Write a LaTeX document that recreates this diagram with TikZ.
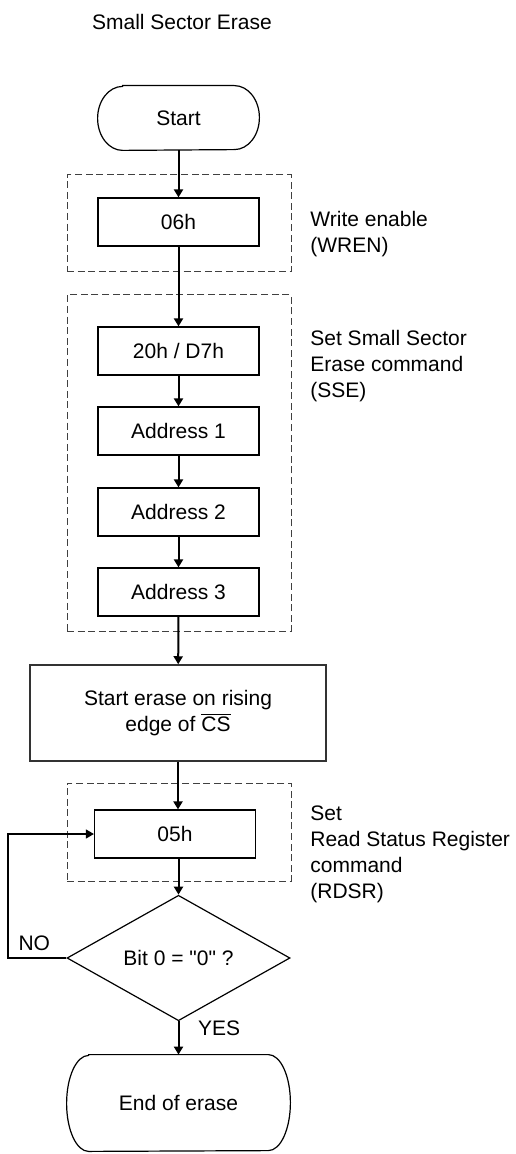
\documentclass[tikz,border=0pt]{standalone}
\usepackage{fontspec}
\setmainfont{Liberation Sans}[Ligatures=TeXOff]
\usepackage{tikz}
\usetikzlibrary{shapes.geometric, arrows.meta, positioning}

\newcommand{\chartfont}{\fontsize{10.5}{13}\selectfont}

\begin{document}
\begin{tikzpicture}[x=0.5pt, y=-0.5pt,
  % Node styles
  box/.style={draw, line width=0.6pt, minimum width=80.5pt, minimum height=24pt,
              align=center, font=\chartfont},
  term/.style={inner sep=0pt, align=center, font=\chartfont},
  termline/.style={line width=0.6pt},
  decision/.style={draw, diamond, inner sep=0pt, line width=0.6pt,
                   minimum width=111.5pt, minimum height=47.5pt, font=\chartfont},
  group/.style={draw=black!75, dash pattern=on 3.5pt off 1.8pt, line width=0.5pt,
                inner sep=0pt, minimum width=112pt},
  note/.style={anchor=west, align=left, inner sep=0pt, font=\chartfont},
  % Arrow styles
  arr/.style={-{Triangle[length=4pt, width=4.5pt]}, line width=1pt},
  thinarr/.style={-{Triangle[length=4pt, width=4.5pt]}, line width=0.6pt},
]
  \useasboundingbox (0,0) rectangle (515,1154);

  % ── Title ──
  \node[font=\chartfont] (title) at (182,22) {Small Sector Erase};

  % ── Dashed command groups ──
  \node[group, minimum height=48.5pt] (grp1) at (179,223.5) {};
  \node[group, minimum height=168pt] (grp2) at (179,463) {};
  \node[group, minimum height=49pt] (grp3) at (179,832) {};

  % ── Start + WREN ──
  \node[term, minimum width=80.5pt, minimum height=32pt] (start) at (178.5,118) {Start};
  \draw[termline] ([xshift=12.5pt]start.north west) -- ([xshift=-12.5pt]start.north east)
    arc[start angle=90, end angle=-90, x radius=12.5pt, y radius=16pt]
    -- ([xshift=12.5pt]start.south west)
    arc[start angle=270, end angle=90, x radius=12.5pt, y radius=16pt] -- cycle;
  \node[box] (wren) at (178.5,222) {06h};
  \node[note] at (310,234) {Write enable\\(WREN)};

  % ── SSE command + address bytes ──
  \node[box] (sse) at (178.5,351) {20h / D7h};
  \node[box] (addr1) at (178.5,431) {Address 1};
  \node[box] (addr2) at (178.5,512) {Address 2};
  \node[box] (addr3) at (178.5,592) {Address 3};
  \node[note] at (310,366.5) {Set Small Sector\\Erase command\\(SSE)};

  % ── Erase start ──
  \node[box, draw=black!80, line width=0.75pt, minimum width=148pt, minimum height=48pt]
        (erase) at (178,713) {Start erase on rising\\edge of $\overline{\mbox{CS}}$};

  % ── RDSR polling ──
  \node[box] (rdsr) at (175,834) {05h};
  \node[note] at (310,854.5) {Set\\Read Status Register\\command\\(RDSR)};
  \node[decision] (check) at (178.5,958) {Bit 0 = "0" ?};
  \coordinate (loopL) at (8,958);

  % ── End ──
  \node[term, minimum width=111.5pt, minimum height=48pt] (done) at (178.5,1103) {End of erase};
  \draw[termline] ([xshift=11pt]done.north west) -- ([xshift=-11pt]done.north east)
    arc[start angle=90, end angle=-90, x radius=11pt, y radius=24pt]
    -- ([xshift=11pt]done.south west)
    arc[start angle=270, end angle=90, x radius=11pt, y radius=24pt] -- cycle;

  % ── Arrows: main flow ──
  \draw[arr] (start) -- (wren);
  \draw[arr] (wren) -- (sse);
  \draw[arr] (sse) -- (addr1);
  \draw[arr] (addr1) -- (addr2);
  \draw[arr] (addr2) -- (addr3);
  \draw[arr] (addr3) -- (erase);
  \draw[arr] (erase.south) -- (erase.south |- rdsr.north);
  \draw[arr] (check.north |- rdsr.south) -- (check.north);
  \draw[arr] (check.south) -- node[pos=0.2, right=6pt, font=\chartfont] {YES} (done.north);

  % ── Arrow: polling loop ──
  \draw[thinarr] (check.west) -- node[pos=0.55, above, font=\chartfont] {NO} (check.west -| loopL)
    |- (rdsr.west);

\end{tikzpicture}
\end{document}
